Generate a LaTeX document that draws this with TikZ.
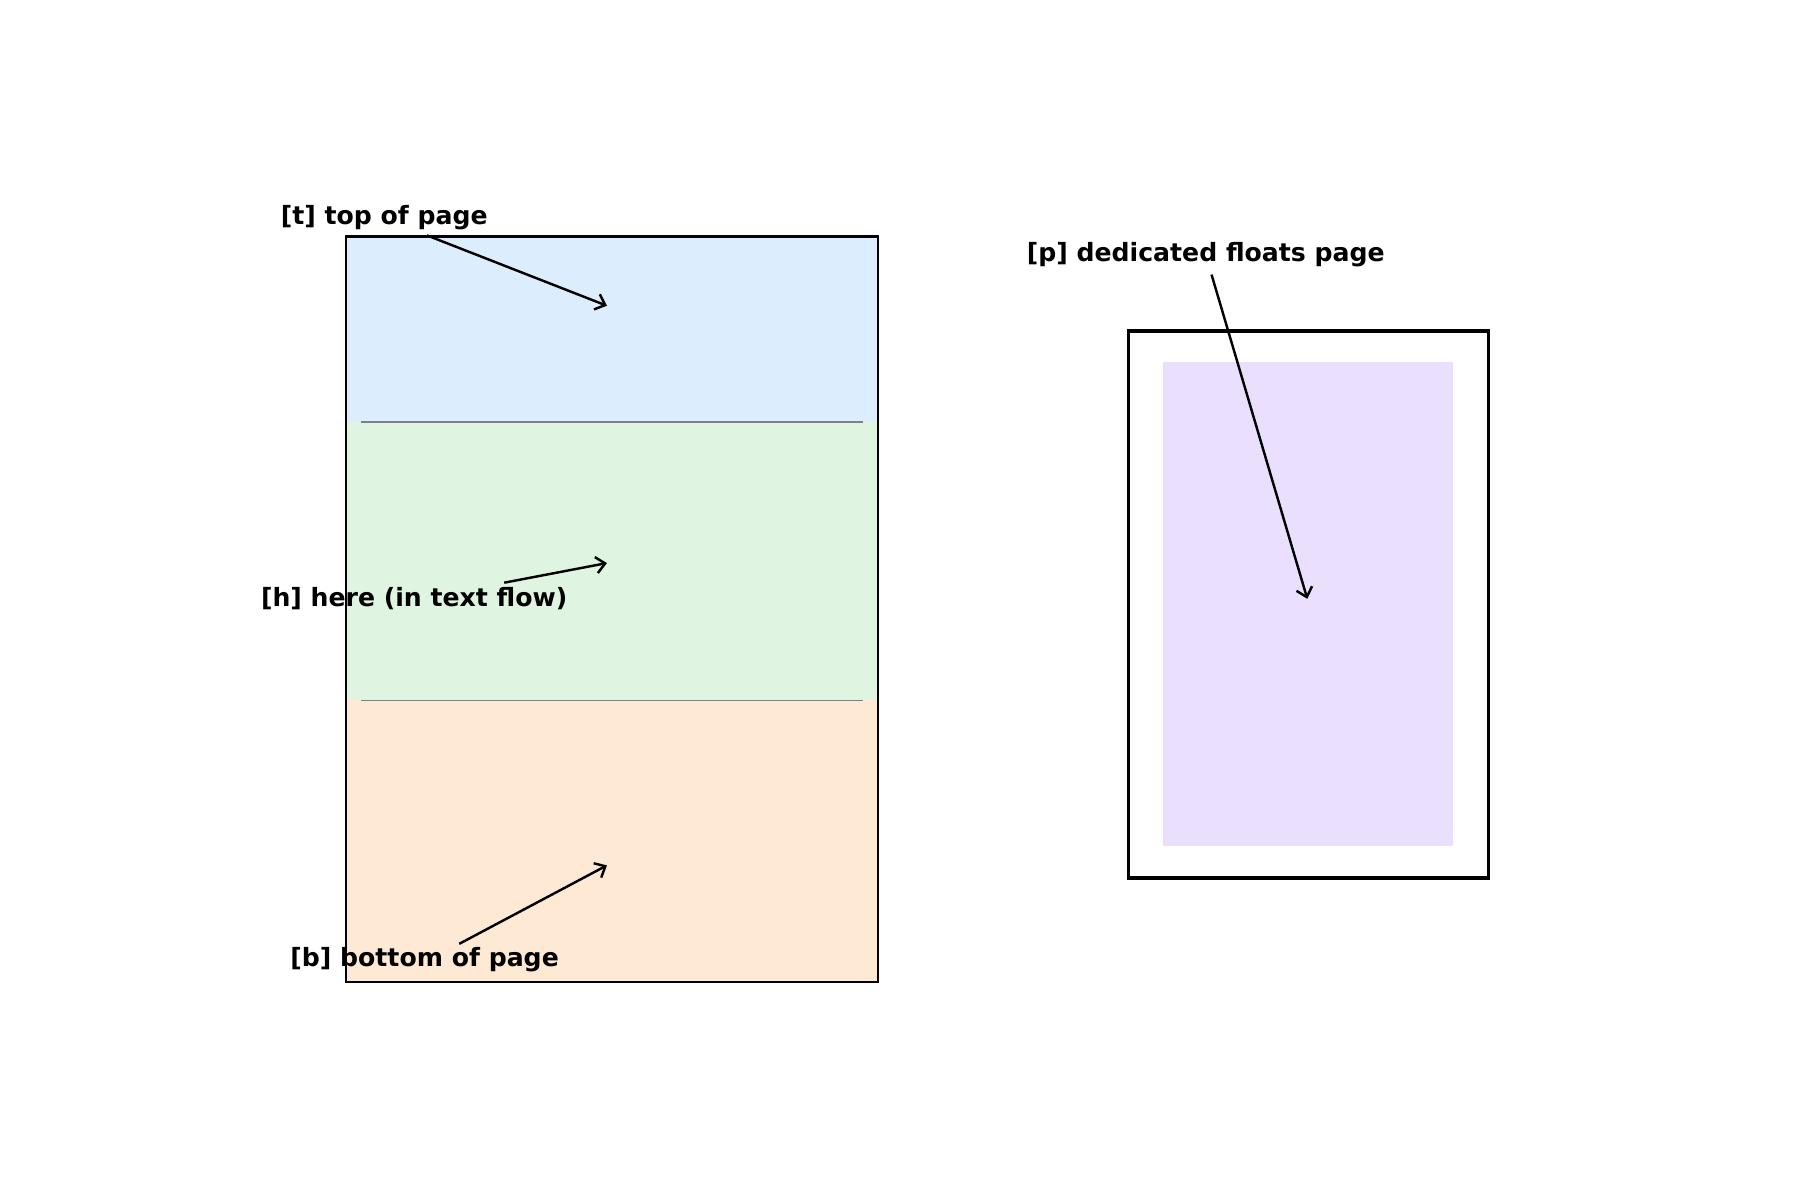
\documentclass[tikz,border=0pt]{standalone}
\usepackage{fontspec}
\setmainfont{DejaVu Sans}
\usetikzlibrary{arrows.meta}
\definecolor{tb}{HTML}{DCEDFE}
\definecolor{hg}{HTML}{E0F5E1}
\definecolor{bo}{HTML}{FEEAD4}
\definecolor{pl}{HTML}{EAE0FE}
\begin{document}
\begin{tikzpicture}[x=0.01cm,y=-0.01cm,
  lab/.style={font=\bfseries\fontsize{6.2}{7}\selectfont,inner sep=0pt},
  arr/.style={-{Straight Barb[length=2.2pt,width=4pt]},line width=0.6pt}]
\useasboundingbox (0,0) rectangle (1560,1040);
\fill[tb] (300,205) rectangle (761,366);
\fill[hg] (300,366) rectangle (761,607);
\fill[bo] (300,607) rectangle (761,851);
\draw[gray,line width=0.4pt] (313,366) -- (748,366);
\draw[gray,line width=0.4pt] (313,607) -- (748,607);
\draw[line width=0.6pt] (300,205) rectangle (761,851);
\fill[pl] (1008,314) rectangle (1259,733);
\draw[line width=0.9pt] (978,287) rectangle (1290,761);
\node[lab] (t) at (333,189) {[t] top of page};
\node[lab] (h) at (359,519) {[h] here (in text flow)};
\node[lab] (b) at (368,832) {[b] bottom of page};
\node[lab] (p) at (1045,221) {[p] dedicated floats page};
\coordinate (ts) at (370,204); \coordinate (te) at (526,265);
\coordinate (hs) at (437,505); \coordinate (he) at (526,488);
\coordinate (bs) at (398,818); \coordinate (be) at (526,750);
\coordinate (ps) at (1050,238); \coordinate (pe) at (1133,519);
\draw[arr] (ts) -- (te);
\draw[arr] (hs) -- (he);
\draw[arr] (bs) -- (be);
\draw[arr] (ps) -- (pe);
\end{tikzpicture}
\end{document}
